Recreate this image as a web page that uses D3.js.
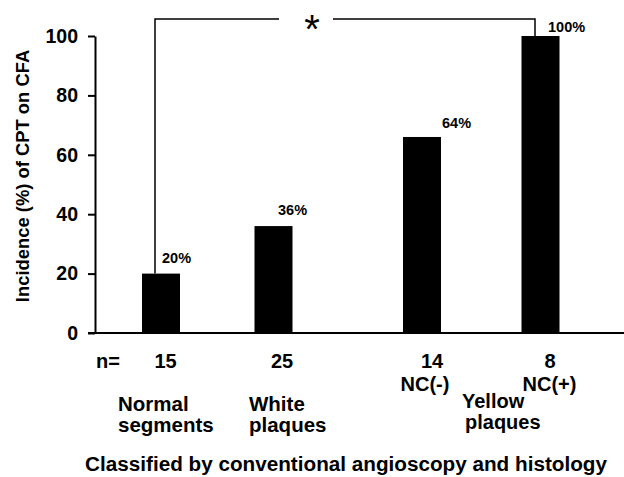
<!DOCTYPE html>
<html>
<head>
<meta charset="utf-8">
<script src="https://cdn.jsdelivr.net/npm/d3@7"></script>
<style>
  html, body { margin: 0; padding: 0; background: #fff; }
  svg { display: block; font-family: "Liberation Sans", Arial, sans-serif; font-weight: bold; }
</style>
</head>
<body>
<svg id="chart" width="624" height="477"></svg>
<script>
// ---- data ----
const categories = ["Normal segments", "White plaques", "Yellow NC(-)", "Yellow NC(+)"];
const incidence = [20, 36, 66, 100];
const percentLabels = ["20%", "36%", "64%", "100%"];
const nValues = ["15", "25", "14", "8"];
const ncLabels = ["", "", "NC(-)", "NC(+)"];
const groupLabels = [["Normal", "segments"], ["White", "plaques"], ["Yellow", "plaques"]];
const yTicks = [0, 20, 40, 60, 80, 100];
const yTitle = "Incidence (%) of CPT on CFA";
const xTitle = "Classified by conventional angioscopy and histology";

// ---- layout ----
const svg = d3.select("#chart");
const y = d3.scaleLinear().domain([0, 100]).range([333, 36]);
const x = d3.scaleOrdinal().domain(categories).range([161, 273.5, 422, 540.5]);
const barW = 38;
const axisX = 95;

// bars
svg.append("g").selectAll("rect").data(categories).join("rect")
  .attr("x", d => x(d) - barW / 2)
  .attr("width", barW)
  .attr("y", (d, i) => y(incidence[i]))
  .attr("height", (d, i) => y(0) - y(incidence[i]))
  .attr("fill", "#000");

// y axis
const yAxis = d3.axisLeft(y).tickValues(yTicks).tickSize(7).tickPadding(10).tickSizeOuter(0);
const gy = svg.append("g").attr("transform", `translate(${axisX},0)`).call(yAxis);
gy.select(".domain").attr("stroke", "#000").attr("stroke-width", 2);
gy.selectAll(".tick line").attr("stroke", "#000").attr("stroke-width", 2);
gy.selectAll(".tick text").attr("font-size", 19.5).attr("font-weight", "bold")
  .attr("font-family", "Liberation Sans, Arial, sans-serif").attr("fill", "#000");

// x baseline
svg.append("line").attr("x1", axisX - 7).attr("x2", 624).attr("y1", y(0)).attr("y2", y(0))
  .attr("stroke", "#000").attr("stroke-width", 2);

// percent labels
const pDx = [1, 4.5, 20, 7.5], pDy = [-11, -11, -9, -4];
svg.append("g").selectAll("text").data(categories).join("text")
  .attr("x", (d, i) => x(d) + pDx[i])
  .attr("y", (d, i) => y(incidence[i]) + pDy[i])
  .attr("font-size", 14.5)
  .text((d, i) => percentLabels[i]);

// n row
svg.append("text").attr("x", 96).attr("y", 368).attr("font-size", 20).text("n=");
const nDx = [4.5, 8.5, 10, 9.5];
svg.append("g").selectAll("text").data(categories).join("text")
  .attr("x", (d, i) => x(d) + nDx[i])
  .attr("y", 368).attr("text-anchor", "middle").attr("font-size", 20)
  .text((d, i) => nValues[i]);

// NC labels
const ncDx = [0, 0, 3, 9];
svg.append("g").selectAll("text").data(categories.filter((d, i) => ncLabels[i]))
  .join("text")
  .attr("x", d => x(d) + ncDx[categories.indexOf(d)])
  .attr("y", 391).attr("text-anchor", "middle").attr("font-size", 20)
  .text(d => ncLabels[categories.indexOf(d)]);

// group labels
const gX = [118, 249, 462], gY = [411, 411, 408], gLine = [21, 21, 20.5], gSize = [20.5, 20.5, 20];
groupLabels.forEach((lines, gi) => {
  const t = svg.append("text").attr("x", gX[gi]).attr("y", gY[gi]).attr("font-size", gSize[gi]);
  lines.forEach((ln, li) => {
    t.append("tspan").attr("x", gX[gi] + (gi === 2 && li === 1 ? 3 : 0))
      .attr("dy", li === 0 ? 0 : gLine[gi]).text(ln);
  });
});

// x title
svg.append("text").attr("x", 346).attr("y", 471).attr("text-anchor", "middle")
  .attr("font-size", 20.7).text(xTitle);

// y title
svg.append("text").attr("transform", "rotate(-90)")
  .attr("x", -176).attr("y", 29).attr("text-anchor", "middle")
  .attr("font-size", 18.4).text(yTitle);

// significance bracket
const bY = 19;
const lx = 155, rx = 535;
const starX = 312;
svg.append("path")
  .attr("d", `M${lx},${y(incidence[0])}V${bY}H${starX - 33}M${starX + 21},${bY}H${rx}V${y(incidence[3])}`)
  .attr("fill", "none").attr("stroke", "#000").attr("stroke-width", 1.5);
svg.append("text").attr("x", starX).attr("y", 43).attr("text-anchor", "middle")
  .attr("font-size", 40).attr("font-weight", "normal").text("*");
</script>
</body>
</html>
